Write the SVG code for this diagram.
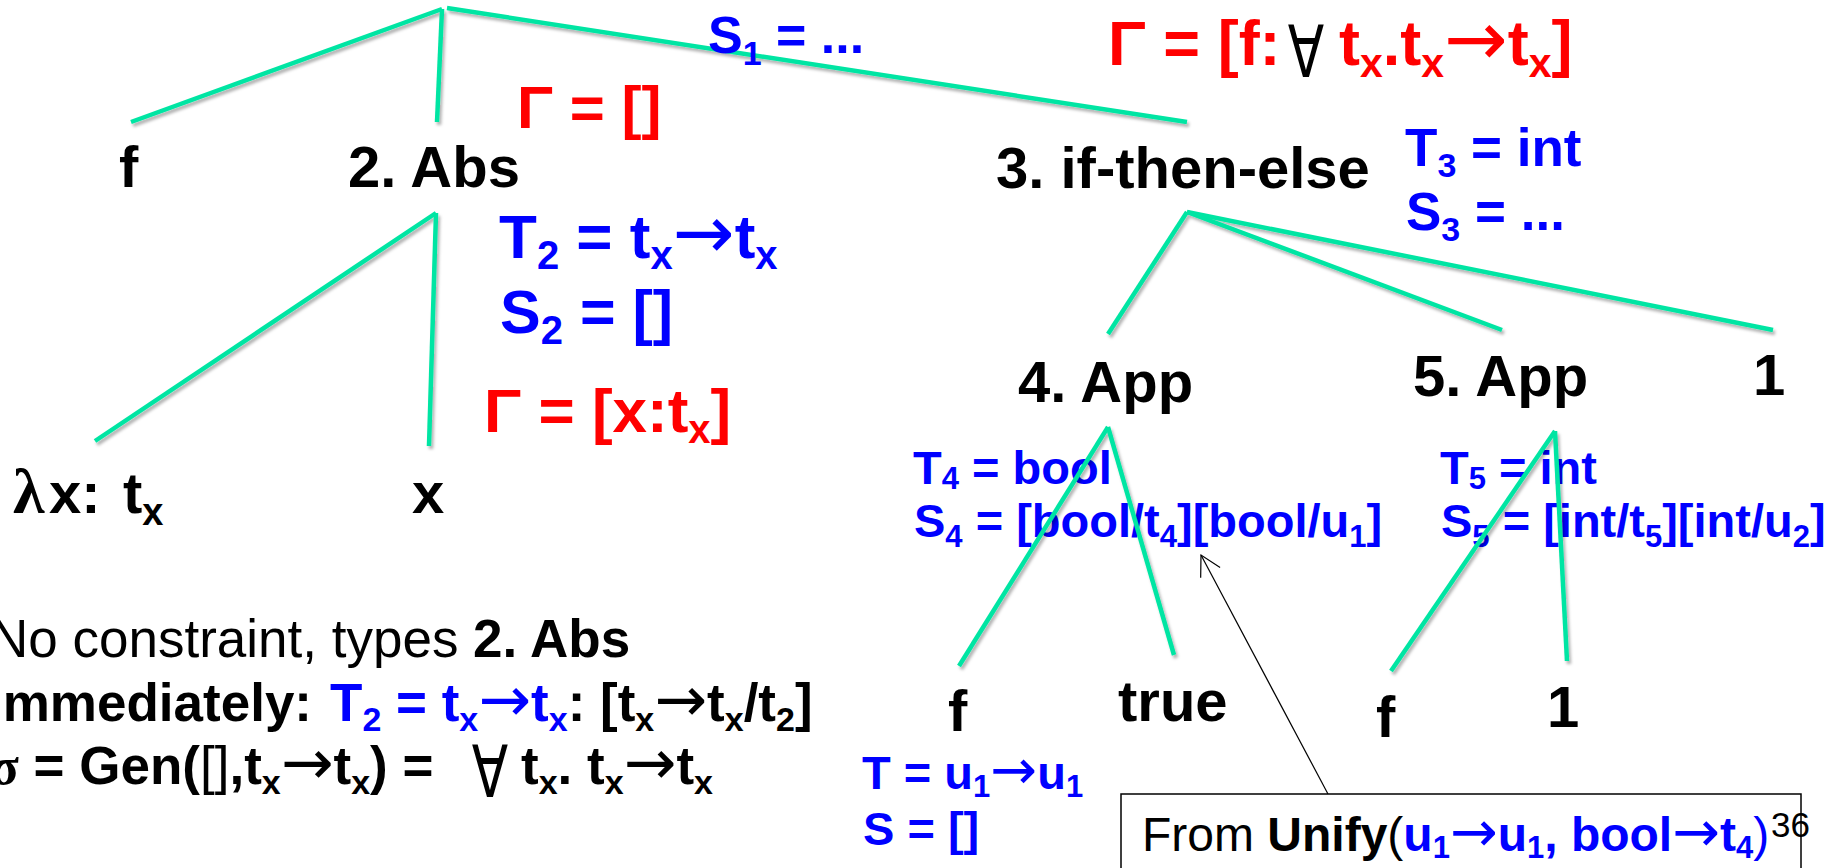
<svg xmlns="http://www.w3.org/2000/svg" width="1841" height="868" viewBox="0 0 1841 868">
<style>
.t{font-family:"Liberation Sans",Arial,sans-serif;font-weight:bold;}
.r{font-weight:normal;}
.k{fill:#000;}
.red{fill:#ff0000;}
.blu{fill:#0000ff;}
.sym{font-family:"Liberation Serif","Times New Roman",serif;}
.ar{font-family:"DejaVu Sans",sans-serif;font-weight:normal;}
.fa{font-family:"DejaVu Sans",sans-serif;font-weight:normal;fill:#000;text-anchor:middle;}
.edge{stroke:#00e5a3;stroke-width:4.5;fill:none;}
.ptr{stroke:#000;stroke-width:1.2;fill:none;}
</style>
<defs>
<filter id="sh" filterUnits="userSpaceOnUse" x="0" y="0" width="1841" height="868">
<feDropShadow dx="2" dy="3" stdDeviation="1.5" flood-color="#000" flood-opacity="0.3"/>
</filter>
<marker id="open" markerUnits="userSpaceOnUse" markerWidth="30" markerHeight="30" refX="0" refY="0" viewBox="-25 -15 30 30" orient="auto">
<path d="M-20,-11 L0,0 L-20,11" fill="none" stroke="#000" stroke-width="1.2"/>
</marker>
</defs>
<rect width="1841" height="868" fill="#fff"/>

<g id="node-f1"><text class="t k" x="119" y="187" font-size="58">f</text></g>
<g id="node-abs"><text class="t k" x="348" y="187" font-size="58">2. Abs</text></g>
<g id="node-ite"><text class="t k" x="996" y="188" font-size="58">3. if-then-else</text></g>
<g id="node-lam"><text class="t k" x="13" y="513" font-size="58"><tspan class="sym" font-size="64">λ</tspan><tspan x="49">x: </tspan><tspan x="123">t</tspan><tspan font-size="38" dy="12">x</tspan></text></g>
<g id="node-x"><text class="t k" x="412" y="513" font-size="58">x</text></g>
<g id="node-app4"><text class="t k" x="1018" y="402" font-size="58">4. App</text></g>
<g id="node-app5"><text class="t k" x="1413" y="396" font-size="58">5. App</text></g>
<g id="node-one"><text class="t k" x="1753" y="395" font-size="58">1</text></g>
<g id="node-f2"><text class="t k" x="948" y="731" font-size="58">f</text></g>
<g id="node-true"><text class="t k" x="1118" y="721" font-size="58">true</text></g>
<g id="node-f3"><text class="t k" x="1376" y="737" font-size="58">f</text></g>
<g id="node-one2"><text class="t k" x="1547" y="727" font-size="58">1</text></g>

<g id="ann-gamma0"><text class="t red" x="517" y="128" font-size="60">Γ = []</text></g>
<g id="ann-gammaf">
<text class="t red" x="1108" y="65" font-size="63">Γ = [f:</text>
<text class="fa" transform="translate(1306,77) scale(0.74,1)" font-size="72">∀</text>
<text class="t red" x="1339" y="65" font-size="63">t<tspan font-size="41" dy="12">x</tspan><tspan dy="-12">.t</tspan><tspan font-size="41" dy="12">x</tspan><tspan class="ar" font-size="76" dy="-12">→</tspan><tspan>t</tspan><tspan font-size="41" dy="12">x</tspan><tspan dy="-12">]</tspan></text>
</g>
<g id="ann-t2">
<text class="t blu" x="499" y="258" font-size="62">T<tspan font-size="40" dy="11">2</tspan><tspan dy="-11"> = t</tspan><tspan font-size="40" dy="11">x</tspan><tspan class="ar" font-size="74" dy="-11">→</tspan><tspan>t</tspan><tspan font-size="40" dy="11">x</tspan></text>
<text class="t blu" x="500" y="333" font-size="61">S<tspan font-size="40" dy="11">2</tspan><tspan dy="-11"> = []</tspan></text>
</g>
<g id="ann-gammax"><text class="t red" x="484" y="432" font-size="62">Γ = [x:t<tspan font-size="40" dy="11">x</tspan><tspan dy="-11">]</tspan></text></g>
<g id="ann-t3">
<text class="t blu" x="1405" y="166" font-size="53">T<tspan font-size="34" dy="11">3</tspan><tspan dy="-11"> = int</tspan></text>
<text class="t blu" x="1406" y="230" font-size="53">S<tspan font-size="34" dy="11">3</tspan><tspan dy="-11"> = ...</tspan></text>
</g>
<g id="ann-t4">
<text class="t blu" x="913" y="484" font-size="47">T<tspan font-size="31" dy="5">4</tspan><tspan dy="-5"> = bool</tspan></text>
<text class="t blu" x="914" y="537" font-size="47">S<tspan font-size="31" dy="10">4</tspan><tspan dy="-10"> = [bool/t</tspan><tspan font-size="31" dy="10">4</tspan><tspan dy="-10">][bool/u</tspan><tspan font-size="31" dy="10">1</tspan><tspan dy="-10">]</tspan></text>
</g>
<g id="ann-t5">
<text class="t blu" x="1440" y="484" font-size="47">T<tspan font-size="31" dy="5">5</tspan><tspan dy="-5"> = int</tspan></text>
<text class="t blu" x="1441" y="537" font-size="47">S<tspan font-size="31" dy="10">5</tspan><tspan dy="-10"> = [int/t</tspan><tspan font-size="31" dy="10">5</tspan><tspan dy="-10">][int/u</tspan><tspan font-size="31" dy="10">2</tspan><tspan dy="-10">]</tspan></text>
</g>
<g id="ann-tf">
<text class="t blu" x="862" y="789" font-size="47">T = u<tspan font-size="31" dy="8">1</tspan><tspan class="ar" font-size="56" dy="-8">→</tspan><tspan>u</tspan><tspan font-size="31" dy="8">1</tspan></text>
<text class="t blu" x="863" y="845" font-size="47">S = []</text>
</g>

<g id="note">
<text class="t k" x="-10" y="657" font-size="53"><tspan class="r">No constraint, types </tspan>2. Abs</text>
<text class="t k" x="-12" y="721" font-size="53">Immediately: <tspan class="blu" x="330">T</tspan><tspan class="blu" font-size="34" dy="10">2</tspan><tspan class="blu" dy="-10"> = t</tspan><tspan class="blu" font-size="34" dy="10">x</tspan><tspan class="blu ar" font-size="63" dy="-10">→</tspan><tspan class="blu">t</tspan><tspan class="blu" font-size="34" dy="10">x</tspan><tspan dy="-10">: [t</tspan><tspan font-size="34" dy="10">x</tspan><tspan class="ar" font-size="63" dy="-10">→</tspan><tspan>t</tspan><tspan font-size="34" dy="10">x</tspan><tspan dy="-10">/t</tspan><tspan font-size="34" dy="10">2</tspan><tspan dy="-10">]</tspan></text>
<text class="t k" x="-10" y="784" font-size="53"><tspan class="sym">σ</tspan> = Gen(<tspan class="r">[]</tspan>,t<tspan font-size="34" dy="10">x</tspan><tspan class="ar" font-size="63" dy="-10">→</tspan><tspan>t</tspan><tspan font-size="34" dy="10">x</tspan><tspan dy="-10">) =</tspan></text>
<text class="fa" transform="translate(490,797) scale(0.74,1)" font-size="72">∀</text>
<text class="t k" x="521" y="784" font-size="53">t<tspan font-size="34" dy="10">x</tspan><tspan dy="-10">. t</tspan><tspan font-size="34" dy="10">x</tspan><tspan class="ar" font-size="63" dy="-10">→</tspan><tspan>t</tspan><tspan font-size="34" dy="10">x</tspan></text>
</g>

<g id="connectors" filter="url(#sh)">
<line class="edge" x1="442" y1="9" x2="131" y2="122"/>
<line class="edge" x1="442" y1="9" x2="437" y2="122"/>
<line class="edge" x1="447" y1="8" x2="1187" y2="122"/>
<line class="edge" x1="436" y1="213" x2="95" y2="441"/>
<line class="edge" x1="436" y1="213" x2="429" y2="446"/>
<line class="edge" x1="1187" y1="212" x2="1108" y2="334"/>
<line class="edge" x1="1187" y1="212" x2="1502" y2="330"/>
<line class="edge" x1="1187" y1="212" x2="1773" y2="330"/>
<line class="edge" x1="1108" y1="427" x2="959" y2="666"/>
<line class="edge" x1="1108" y1="427" x2="1174" y2="655"/>
<line class="edge" x1="1555" y1="431" x2="1391" y2="671"/>
<line class="edge" x1="1555" y1="431" x2="1567" y2="661"/>
</g>

<g id="ann-s1"><text class="t blu" x="708" y="53" font-size="52">S<tspan font-size="34" dy="12">1</tspan><tspan dy="-12"> = ...</tspan></text></g>

<g id="callout">
<line class="ptr" x1="1328" y1="794" x2="1201" y2="555" marker-end="url(#open)"/>
<rect x="1121" y="794" width="680" height="100" fill="#fff" stroke="#000" stroke-width="1.5"/>
<text class="t k" x="1142" y="851" font-size="48"><tspan class="r">From </tspan>Unify<tspan class="r">(</tspan><tspan class="blu">u</tspan><tspan class="blu" font-size="31" dy="7">1</tspan><tspan class="blu ar" font-size="57" dy="-7">→</tspan><tspan class="blu">u</tspan><tspan class="blu" font-size="31" dy="7">1</tspan><tspan class="blu" dy="-7">, bool</tspan><tspan class="blu ar" font-size="57">→</tspan><tspan class="blu">t</tspan><tspan class="blu" font-size="31" dy="7">4</tspan><tspan class="blu r" dy="-7">)</tspan></text>
<text class="t k r" x="1771" y="837" font-size="35">36</text>
</g>
</svg>
